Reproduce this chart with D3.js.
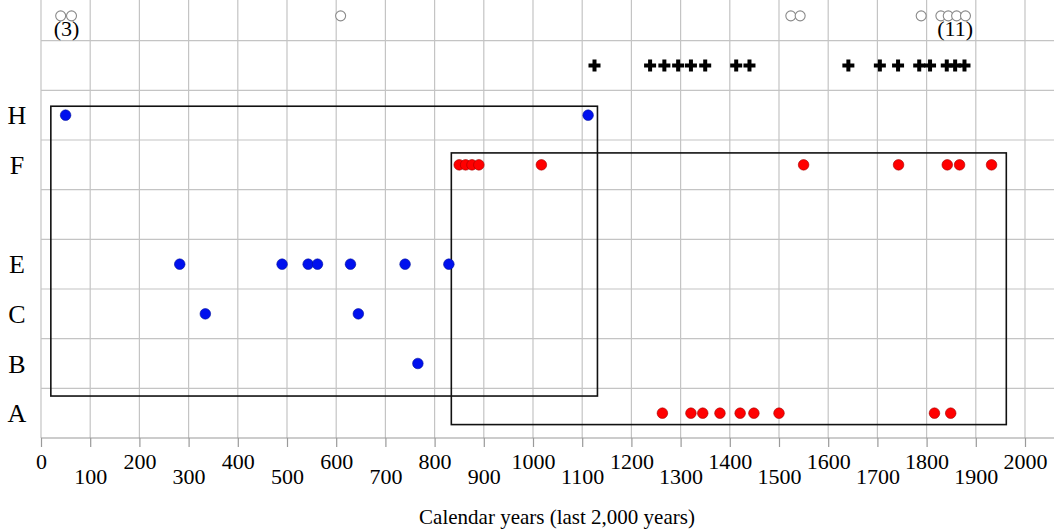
<!DOCTYPE html>
<html>
<head>
<meta charset="utf-8">
<script src="https://cdn.jsdelivr.net/npm/d3@7"></script>
<style>
  body { margin: 0; background: #fff; }
  svg { display: block; font-family: "Liberation Serif", "Times New Roman", serif; }
</style>
</head>
<body>
<div id="chart"></div>
<script>
// rows from bottom to top ('' is the empty row, the last two are the marker rows)
const rowOrder = ['A', 'B', 'C', 'E', '', 'F', 'H', 'cross', 'open'];
const rowLabels = ['A', 'B', 'C', 'E', 'F', 'H'];

const xTicks = d3.range(0, 2001, 100);

// calendar years
const blueH = [50, 1112];
const blueE = [282, 490, 543, 562, 629, 740, 829];
const blueC = [334, 645];
const blueB = [766];
const redF = [850, 863, 876, 890, 1017, 1550, 1743, 1842, 1867, 1932];
const redA = [1263, 1321, 1345, 1380, 1421, 1449, 1500, 1816, 1849];
const crossYears = [1125, 1238, 1267, 1295, 1321, 1350, 1413, 1440, 1641, 1705, 1742, 1785, 1807, 1841, 1858, 1877];
const openYears = [40, 62, 609, 1524, 1543, 1789, 1829, 1844, 1861, 1879];
const countLabels = [{ year: 52, text: '(3)' }, { year: 1858, text: '(11)' }];

// boxes: years and row units
const blueBox = { x0: 20, x1: 1131, y0: 0.845, y1: 6.68 };
const redBox = { x0: 834, x1: 1962, y0: 0.27, y1: 5.74 };

const width = 1054, height = 531;

const svg = d3.select('#chart')
  .append('svg')
    .attr('width', width)
    .attr('height', height);

const x = d3.scaleLinear()
  .domain([0, 2000])
  .range([41, 1025]);

const y = d3.scaleLinear()
  .domain([0, 9])
  .range([438, -9]);

function rowY(key) {
  return y(rowOrder.indexOf(key) + 0.5);
}

// grid
svg.append('g')
  .selectAll('line')
  .data(d3.range(1, 10))
  .enter()
  .append('line')
    .attr('x1', x(0))
    .attr('x2', width)
    .attr('y1', d => y(d))
    .attr('y2', d => y(d))
    .style('stroke', '#c4c4c4')
    .style('stroke-width', 1.2);

svg.append('g')
  .selectAll('line')
  .data(xTicks)
  .enter()
  .append('line')
    .attr('x1', d => x(d))
    .attr('x2', d => x(d))
    .attr('y1', y(9))
    .attr('y2', y(0))
    .style('stroke', '#c4c4c4')
    .style('stroke-width', 1.2);

// x axis
const xAxis = svg.append('g')
  .attr('transform', `translate(0, ${y(0)})`)
  .call(d3.axisBottom(x).tickValues(xTicks).tickSize(9).tickFormat(d3.format('d')));
xAxis.select('.domain').remove();
xAxis.append('line')
  .attr('x1', x(0))
  .attr('x2', width)
  .style('stroke', '#9a9a9a')
  .style('stroke-width', 1.2);
xAxis.selectAll('.tick line').style('stroke', '#9a9a9a').style('stroke-width', 1.2);
xAxis.selectAll('.tick text')
  .attr('y', (d, i) => i % 2 === 0 ? 31 : 46)
  .attr('dy', null)
  .style('font-family', '"Liberation Serif", "Times New Roman", serif')
  .style('font-size', '22px')
  .style('fill', '#000');

svg.append('text')
  .attr('x', 557)
  .attr('y', 524)
  .attr('text-anchor', 'middle')
  .style('font-size', '21px')
  .text('Calendar years (last 2,000 years)');

// row labels
svg.append('g')
  .selectAll('text')
  .data(rowLabels)
  .enter()
  .append('text')
    .attr('x', 17)
    .attr('y', d => rowY(d))
    .attr('dy', '0.35em')
    .attr('text-anchor', 'middle')
    .style('font-size', '26px')
    .text(d => d);

// boxes
svg.append('g')
  .selectAll('rect')
  .data([blueBox, redBox])
  .enter()
  .append('rect')
    .attr('x', d => x(d.x0))
    .attr('y', d => y(d.y1))
    .attr('width', d => x(d.x1) - x(d.x0))
    .attr('height', d => y(d.y0) - y(d.y1))
    .style('fill', 'none')
    .style('stroke', '#111')
    .style('stroke-width', 1.6);

// dots
function addDots(years, row, fill, stroke) {
  svg.append('g')
    .selectAll('circle')
    .data(years)
    .enter()
    .append('circle')
      .attr('cx', d => x(d))
      .attr('cy', rowY(row))
      .attr('r', 5.3)
      .style('fill', fill)
      .style('stroke', stroke)
      .style('stroke-width', 0.6);
}

addDots(blueH, 'H', '#0010ee', '#00109a');
addDots(blueE, 'E', '#0010ee', '#00109a');
addDots(blueC, 'C', '#0010ee', '#00109a');
addDots(blueB, 'B', '#0010ee', '#00109a');
addDots(redF, 'F', '#ff0000', '#a00000');
addDots(redA, 'A', '#ff0000', '#a00000');

// crosses
svg.append('g')
  .selectAll('path')
  .data(crossYears)
  .enter()
  .append('path')
    .attr('d', d3.symbol().type(d3.symbolCross).size(80))
    .attr('transform', d => `translate(${x(d)}, ${rowY('cross')})`)
    .style('fill', '#000');

// open circles
svg.append('g')
  .selectAll('circle')
  .data(openYears)
  .enter()
  .append('circle')
    .attr('cx', d => x(d))
    .attr('cy', rowY('open'))
    .attr('r', 5)
    .style('fill', '#fff')
    .style('stroke', '#8a8a8a')
    .style('stroke-width', 1.1);

svg.append('g')
  .selectAll('text')
  .data(countLabels)
  .enter()
  .append('text')
    .attr('x', d => x(d.year))
    .attr('y', 36)
    .attr('text-anchor', 'middle')
    .style('font-size', '22px')
    .text(d => d.text);
</script>
</body>
</html>
